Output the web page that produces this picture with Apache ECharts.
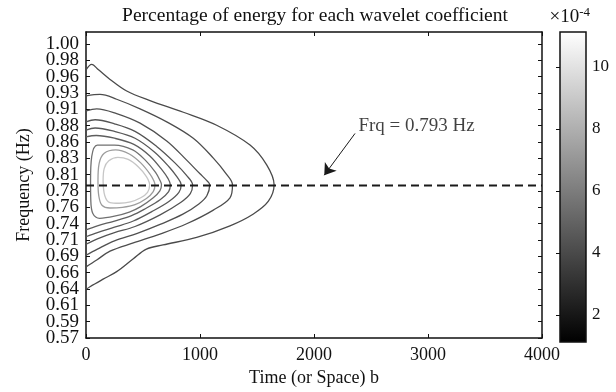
<!DOCTYPE html>
<html><head><meta charset="utf-8">
<script src="https://cdn.jsdelivr.net/npm/echarts@6/dist/echarts.min.js"></script>
<style>html,body{margin:0;padding:0;background:#fff}#c{width:616px;height:392px}</style>
</head><body><div id="c"></div>
<script>
// ---------- data ----------
const titleText = 'Percentage of energy for each wavelet coefficient';
const xName = 'Time (or Space) b';
const yName = 'Frequency (Hz)';
const xRange = [0, 4000];
const xTickStep = 1000;
const yTickLabels = ['0.57','0.59','0.61','0.64','0.66','0.69','0.71','0.74','0.76','0.78',
                     '0.81','0.83','0.86','0.88','0.91','0.93','0.96','0.98','1.00'];
const yFirstTick = 0.57, yLastTick = 1.00, yAxisTop = 1.0173;
const peakFreq = 0.793;
const colorbarRange = [1.13, 11.12];
const colorbarTicks = [2, 4, 6, 8, 10];
const colorbarUnit = ['×10', '-4'];
const annotationText = 'Frq = 0.793 Hz';
const annotationAt = [2390, 0.880];
const arrowFrom = [2360, 0.869];
const arrowTo = [2090, 0.808];

// contour lines (time, frequency), outermost first
const contour1 = [[0,0.962],[50,0.970],[110,0.962],[211,0.948],[357,0.931],[561,0.917],[854,0.900],[1146,0.881],[1439,0.852],[1585,0.823],[1650,0.794],
  [1600,0.770],[1465,0.751],[1263,0.734],[971,0.717],[675,0.706],[530,0.700],[415,0.686],[269,0.667],[150,0.656],[35,0.645],[0,0.641]];
const contour2 = [[0,0.924],[123,0.926],[269,0.919],[474,0.905],[708,0.886],[941,0.862],[1117,0.833],[1230,0.810],[1285,0.794],
  [1263,0.775],[1117,0.757],[883,0.737],[649,0.722],[415,0.709],[211,0.697],[94,0.684],[0,0.674]];
const contour3 = [[0,0.902],[94,0.905],[269,0.898],[474,0.884],[708,0.858],[883,0.830],[1000,0.810],[1060,0.800],[1085,0.794],
  [1060,0.778],[990,0.766],[850,0.751],[650,0.736],[450,0.723],[250,0.712],[100,0.700],[0,0.691]];
const contour4 = [[0,0.886],[80,0.889],[250,0.883],[430,0.872],[620,0.850],[780,0.826],[880,0.808],[935,0.794],
  [915,0.781],[830,0.768],[650,0.750],[430,0.733],[250,0.724],[100,0.715],[0,0.707]];
const contour5 = [[0,0.874],[80,0.877],[250,0.872],[430,0.862],[600,0.842],[730,0.820],[800,0.805],[835,0.794],
  [815,0.783],[730,0.770],[580,0.755],[415,0.741],[250,0.732],[100,0.724],[0,0.718]];
const contour6 = [[0,0.864],[90,0.866],[250,0.862],[420,0.853],[560,0.836],[670,0.815],[720,0.803],[740,0.794],
  [725,0.784],[650,0.772],[520,0.759],[400,0.749],[250,0.741],[100,0.734],[0,0.728]];
const contour7 = [[40,0.800],[50,0.835],[100,0.852],[250,0.852],[410,0.845],[520,0.830],[610,0.812],[650,0.800],[662,0.794],
  [648,0.785],[590,0.775],[480,0.762],[380,0.754],[250,0.748],[120,0.745],[60,0.752],[42,0.772],[40,0.800]];
const contour8 = [[105,0.800],[115,0.825],[160,0.840],[260,0.845],[380,0.839],[480,0.826],[560,0.810],[595,0.800],[605,0.794],
  [590,0.784],[530,0.774],[430,0.765],[320,0.761],[210,0.760],[140,0.764],[112,0.778],[105,0.800]];
const contour9 = [[150,0.800],[160,0.818],[200,0.829],[280,0.834],[370,0.831],[460,0.820],[530,0.806],[558,0.794],
  [540,0.783],[480,0.775],[390,0.769],[290,0.767],[210,0.768],[165,0.778],[150,0.800]];
const contours = [contour1, contour2, contour3, contour4, contour5, contour6, contour7, contour8, contour9];

// ---------- styles ----------
const contourColors = ['#4a4a4a','#4d4d4d','#505050','#545454','#585858','#5e5e5e','#707070','#9c9c9c','#c6c6c6'];
const FONT = 'Liberation Serif';
const INK = '#111';

const yStep = (yLastTick - yFirstTick) / (yTickLabels.length - 1);
const yTickValues = yTickLabels.map((_, i) => +(yFirstTick + i * yStep).toFixed(6));
const yEvenValues = yTickValues.filter((_, i) => i % 2 === 0);
const yOddValues = yTickValues.filter((_, i) => i % 2 === 1);
const yLabelFor = v => {
  const i = yTickValues.findIndex(t => Math.abs(t - v) < 1e-4);
  return i >= 0 ? yTickLabels[i] : '';
};

const axisLine = { show: true, onZero: false, lineStyle: { color: INK, width: 1.5 } };
const tick = { show: true, inside: true, length: 4, lineStyle: { color: INK, width: 1 } };
const labelStyle = { fontFamily: FONT, fontSize: 18, color: INK };
const yLabelStyle = { fontFamily: FONT, fontSize: 19, color: INK, margin: 7, formatter: yLabelFor,
                      showMinLabel: true, showMaxLabel: true };

const series = contours.map((c, i) => ({
  type: 'line', xAxisIndex: 0, yAxisIndex: 0, data: c, symbol: 'none', showSymbol: false,
  smooth: 0.35, silent: true, z: 2,
  lineStyle: { color: contourColors[i], width: 1.3 }
}));

series.push({
  type: 'line', xAxisIndex: 0, yAxisIndex: 0, symbol: 'none', silent: true, z: 3,
  data: [[xRange[0], peakFreq], [xRange[1], peakFreq]],
  lineStyle: { color: '#1a1a1a', width: 2, type: [8, 5] }
});
series.push({
  type: 'lines', coordinateSystem: 'cartesian2d', xAxisIndex: 0, yAxisIndex: 0, silent: true, z: 4,
  symbol: ['none', 'arrow'], symbolSize: [7, 11],
  data: [{ coords: [arrowFrom, arrowTo] }],
  lineStyle: { color: '#1a1a1a', width: 1, opacity: 1, curveness: 0 }
});
series.push({
  type: 'scatter', xAxisIndex: 0, yAxisIndex: 0, silent: true, z: 4,
  data: [annotationAt], symbolSize: 0, itemStyle: { color: 'rgba(0,0,0,0)' },
  label: { show: true, position: 'right', distance: 0, formatter: annotationText,
           fontFamily: FONT, fontSize: 19, color: INK }
});
series.push({
  type: 'custom', xAxisIndex: 2, yAxisIndex: 3, silent: true,
  data: [[0, colorbarRange[0], 1, colorbarRange[1]]],
  renderItem: (params, api) => {
    const p0 = api.coord([api.value(0), api.value(1)]);
    const p1 = api.coord([api.value(2), api.value(3)]);
    return {
      type: 'rect',
      shape: { x: p0[0], y: p1[1], width: p1[0] - p0[0], height: p0[1] - p1[1] },
      style: {
        fill: new echarts.graphic.LinearGradient(0, 1, 0, 0, [
          { offset: 0, color: '#000000' }, { offset: 1, color: '#ffffff' }]),
        stroke: INK, lineWidth: 1.5
      }
    };
  }
});

const option = {
  animation: false,
  backgroundColor: '#fff',
  title: {
    text: titleText, left: 310, top: 1, textAlign: 'center',
    textStyle: { fontFamily: FONT, fontSize: 19.5, fontWeight: 'normal', color: INK }
  },
  graphic: [{
    type: 'text', right: 26, top: 6,
    style: {
      text: '{a|' + colorbarUnit[0] + '}{b|' + colorbarUnit[1] + '}',
      fontFamily: FONT, fontSize: 19, fill: INK,
      rich: { a: { fontFamily: FONT, fontSize: 19, fill: INK },
              b: { fontFamily: FONT, fontSize: 13, fill: INK, padding: [0, 0, 10, 0] } }
    }
  }],
  grid: [
    { left: 86, right: 74, top: 32, bottom: 50 },
    { left: 560, right: 30, top: 32, bottom: 50 }
  ],
  xAxis: [
    { gridIndex: 0, type: 'value', min: xRange[0], max: xRange[1], interval: xTickStep, position: 'bottom',
      axisLine, axisTick: tick, splitLine: { show: false },
      axisLabel: Object.assign({ margin: 8, showMinLabel: true, showMaxLabel: true, formatter: v => String(v) }, labelStyle),
      name: xName, nameLocation: 'middle', nameGap: 31,
      nameTextStyle: labelStyle },
    { gridIndex: 0, type: 'value', min: xRange[0], max: xRange[1], interval: xTickStep, position: 'top',
      axisLine, axisTick: tick, splitLine: { show: false }, axisLabel: { show: false } },
    { gridIndex: 1, type: 'value', min: 0, max: 1, show: false }
  ],
  yAxis: [
    { gridIndex: 0, type: 'value', min: yFirstTick, max: yAxisTop, position: 'left', offset: 0,
      axisLine, splitLine: { show: false },
      axisTick: Object.assign({ customValues: yTickValues }, tick),
      axisLabel: Object.assign({ customValues: yEvenValues }, yLabelStyle),
      name: yName, nameLocation: 'middle', nameGap: 53, nameRotate: 90,
      nameTextStyle: labelStyle },
    { gridIndex: 0, type: 'value', min: yFirstTick, max: yAxisTop, position: 'left', offset: 0,
      axisLine: { show: false }, axisTick: { show: false }, splitLine: { show: false },
      axisLabel: Object.assign({ customValues: yOddValues }, yLabelStyle) },
    { gridIndex: 0, type: 'value', min: yFirstTick, max: yAxisTop, position: 'right',
      axisLine, splitLine: { show: false },
      axisTick: Object.assign({ customValues: yTickValues }, tick),
      axisLabel: { show: false } },
    { gridIndex: 1, type: 'value', min: colorbarRange[0], max: colorbarRange[1], position: 'right',
      axisLine: { show: false }, splitLine: { show: false },
      axisTick: Object.assign({ customValues: colorbarTicks }, tick),
      axisLabel: Object.assign({ customValues: colorbarTicks, margin: 6 }, labelStyle, { fontSize: 17 }) }
  ],
  series
};

const chart = echarts.init(document.getElementById('c'), null, { renderer: 'canvas' });
chart.setOption(option);
</script>
</body></html>
